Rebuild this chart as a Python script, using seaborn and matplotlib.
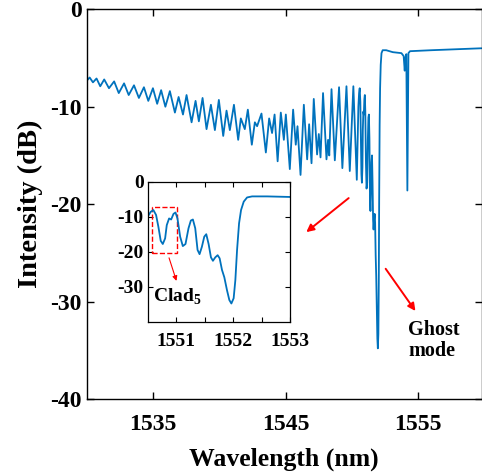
import numpy as np
import pandas as pd
import matplotlib
matplotlib.use("Agg")
import matplotlib.pyplot as plt
from matplotlib.patches import Rectangle
import seaborn as sns

sns.set_theme(style="ticks")
plt.rcParams["font.family"] = ["Liberation Serif", "DejaVu Serif"]
plt.rcParams["font.weight"] = "bold"
plt.rcParams["axes.unicode_minus"] = False
plt.rcParams["mathtext.fontset"] = "custom"
plt.rcParams["mathtext.bf"] = "Liberation Serif:bold"
plt.rcParams["mathtext.rm"] = "Liberation Serif:bold"
for key in ["text.color", "axes.labelcolor", "xtick.color", "ytick.color", "axes.edgecolor"]:
    plt.rcParams[key] = "black"

LINE_COLOR = "#0072BD"

# transmission spectrum (nm, dB)
wavelength = [
    1530.00, 1530.20, 1530.45, 1530.72, 1531.00, 1531.30, 1531.66, 1532.05, 1532.40, 1532.80,
    1533.15, 1533.55, 1533.92, 1534.30, 1534.63, 1534.98, 1535.30, 1535.60, 1535.92, 1536.26,
    1536.64, 1536.92, 1537.25, 1537.52, 1537.90, 1538.20, 1538.45, 1538.73, 1539.03, 1539.36,
    1539.66, 1539.96, 1540.29, 1540.54, 1540.79, 1541.10, 1541.42, 1541.62, 1541.92, 1542.15,
    1542.45, 1542.68, 1542.85, 1543.18, 1543.51, 1543.76, 1543.98, 1544.17, 1544.40, 1544.64,
    1544.87, 1545.02, 1545.32, 1545.57, 1545.77, 1545.90, 1546.13, 1546.38, 1546.63, 1546.78,
    1546.96, 1547.13, 1547.38, 1547.51, 1547.64, 1547.83, 1548.09, 1548.21, 1548.30, 1548.47,
    1548.72, 1549.04, 1549.29, 1549.60, 1549.85, 1550.12, 1550.38,
    1550.50, 1550.553, 1550.60, 1550.647, 1550.688, 1550.729, 1550.765, 1550.806, 1550.835, 1550.876,
    1550.912, 1550.953, 1550.988, 1551.023, 1551.07, 1551.117, 1551.164, 1551.217, 1551.258, 1551.294,
    1551.335, 1551.376, 1551.411, 1551.452, 1551.494, 1551.529, 1551.57, 1551.611, 1551.646, 1551.688,
    1551.729, 1551.764, 1551.805, 1551.846, 1551.893, 1551.934, 1551.97, 1552.01, 1552.04, 1552.07,
    1552.105, 1552.14, 1552.187, 1552.246, 1552.334, 1552.60, 1553.10, 1553.75, 1553.92, 1554.00,
    1554.05, 1554.12, 1554.20, 1554.28, 1554.40, 1556.00, 1558.00, 1559.80,
]
intensity = [
    -7.3, -7.0, -7.5, -7.1, -7.9, -7.2, -8.1, -7.4, -8.6, -7.6,
    -8.8, -7.8, -9.1, -8.0, -9.4, -8.1, -9.7, -8.3, -10.0, -8.4,
    -10.6, -9.0, -10.8, -8.8, -11.6, -9.4, -11.5, -9.1, -12.3, -9.8,
    -12.4, -9.3, -13.0, -10.4, -12.4, -9.8, -13.4, -11.2, -12.3, -10.3,
    -13.9, -11.6, -12.0, -10.7, -14.7, -11.2, -12.7, -10.8, -15.6, -10.6,
    -13.4, -10.8, -16.4, -10.3, -13.9, -12.0, -17.0, -9.8, -15.4, -11.8,
    -15.8, -9.2, -14.9, -12.8, -15.2, -8.6, -15.4, -13.4, -15.0, -8.2,
    -15.5, -8.0, -16.3, -7.9, -16.6, -7.9, -17.5,
    -10.0, -8.6, -8.1, -9.5, -12.9, -16.9, -17.8, -16.2, -12.4, -10.5,
    -10.8, -9.2, -8.8, -10.5, -15.7, -18.4, -17.8, -13.3, -11.1, -10.8,
    -13.3, -19.5, -20.7, -18.6, -15.7, -15.0, -17.8, -21.6, -22.6, -21.6,
    -21.0, -21.9, -25.2, -27.3, -31.0, -33.8, -34.8, -33.3, -28.1, -19.5,
    -11.9, -8.1, -5.7, -4.5, -4.2, -4.2, -4.4, -4.5, -4.8, -6.3,
    -5.0, -4.6, -18.6, -4.5, -4.3, -4.2, -4.1, -4.0,
]

x_ticks = [1535, 1545, 1555]
y_ticks = [0, -10, -20, -30, -40]
inset_x_ticks = [1551, 1552, 1553]
inset_x_minor = [1551.5, 1552.5]
inset_y_ticks = [0, -10, -20, -30]

df = pd.DataFrame({"wl": wavelength, "db": intensity})

fig = plt.figure(figsize=(4.82, 4.73), dpi=100)

# main axes
ax = fig.add_axes([87 / 482, 1 - 399 / 473, (481.5 - 87) / 482, (399 - 9.3) / 473])
sns.lineplot(data=df, x="wl", y="db", ax=ax, color=LINE_COLOR, lw=1.3,
             sort=False, estimator=None)
ax.set_xlim(1530, 1559.8)
ax.set_ylim(-40, 0)
ax.set_xticks(x_ticks)
ax.set_yticks(y_ticks)
ax.set_xticklabels([str(t) for t in x_ticks])
ax.set_yticklabels([str(t) for t in y_ticks])
ax.tick_params(direction="in", length=5, width=1, labelsize=17,
               top=True, right=True, pad=4)
ax.tick_params(axis="x", pad=11)
for s in ax.spines.values():
    s.set_linewidth(1.0)
ax.set_xlabel("Wavelength (nm)", fontsize=18.5, fontweight="bold", labelpad=9)
ax.set_ylabel("Intensity (dB)", fontsize=20.5, fontweight="bold", labelpad=5)

ax.annotate("", xy=(1546.4, -23.05), xytext=(1549.93, -19.2),
            arrowprops=dict(arrowstyle="-|>", color="red", lw=1.4, mutation_scale=11))
ax.annotate("", xy=(1554.93, -31.2), xytext=(1552.44, -26.4),
            arrowprops=dict(arrowstyle="-|>", color="red", lw=1.4, mutation_scale=11))
ax.text(1554.27, -34.0, "Ghost\nmode", fontsize=14.5, fontweight="bold",
        ha="left", va="center", linespacing=1.05)

# inset zoom on the Bragg dip
axin = fig.add_axes([147.7 / 482, 1 - 321.7 / 473, 142.3 / 482, 140 / 473])
sns.lineplot(data=df, x="wl", y="db", ax=axin, color=LINE_COLOR, lw=1.3,
             sort=False, estimator=None)
axin.set_xlim(1550.5, 1553)
axin.set_ylim(-40, 0)
axin.set_xticks(inset_x_ticks)
axin.set_xticks(inset_x_minor, minor=True)
axin.set_yticks(inset_y_ticks)
axin.set_xticklabels([str(t) for t in inset_x_ticks])
axin.set_yticklabels([str(t) for t in inset_y_ticks])
axin.tick_params(which="both", direction="in", length=3.5, width=0.8,
                 labelsize=14, top=True, right=True, pad=3)
axin.tick_params(axis="x", pad=8)
axin.set_xlabel("")
axin.set_ylabel("")
for s in axin.spines.values():
    s.set_linewidth(0.9)

axin.add_patch(Rectangle((1550.57, -20.3), 0.44, 13.2, fill=False,
                         edgecolor="red", linestyle="--", lw=1.0))
axin.annotate("", xy=(1551.02, -29.1), xytext=(1550.86, -21.0),
              arrowprops=dict(arrowstyle="-|>", color="red", lw=0.8, mutation_scale=7))
axin.text(1550.59, -32.9, r"$\mathbf{Clad}_{\mathbf{5}}$", fontsize=14,
          ha="left", va="center")

fig.savefig("out.png", dpi=100)
